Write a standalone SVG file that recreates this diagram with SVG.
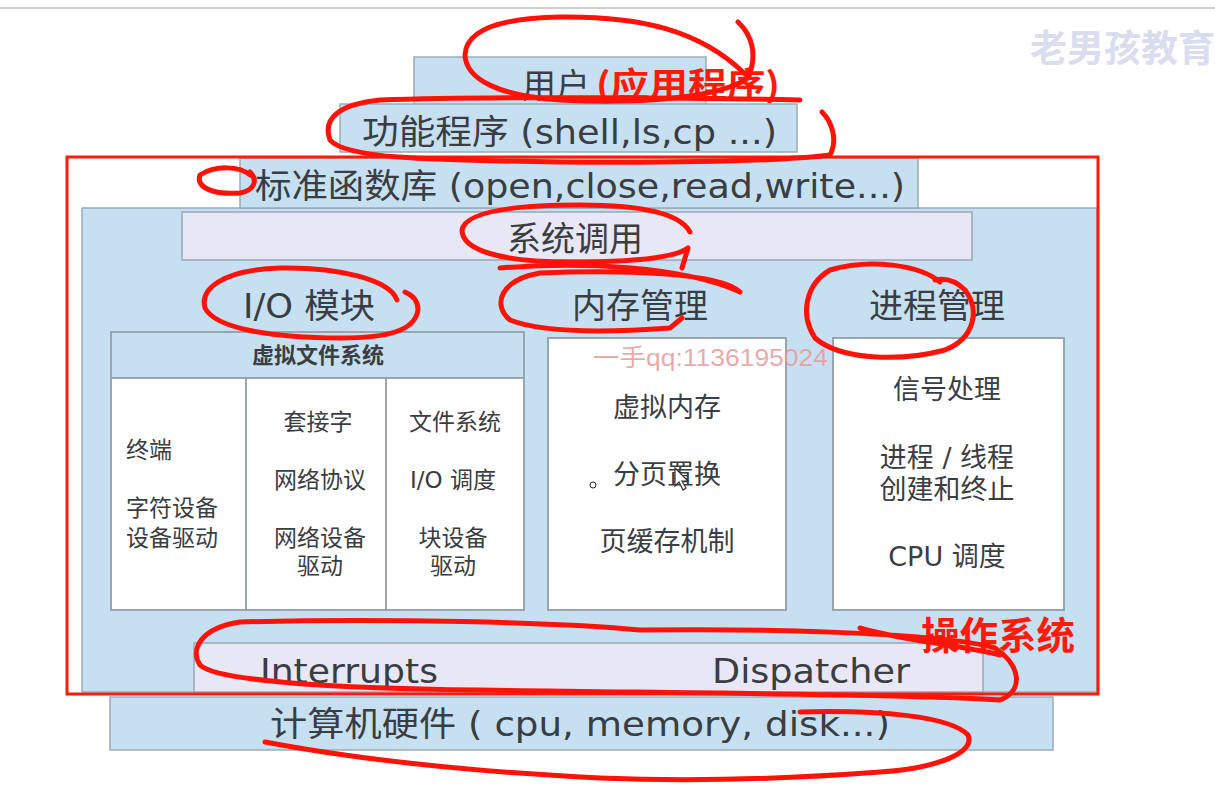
<svg xmlns="http://www.w3.org/2000/svg" width="1215" height="789" viewBox="0 0 1215 789">
<style>
.blue{fill:#c7e0f1;stroke:#9aabb8;stroke-width:1.5}
.lav{fill:#e7e7f6;stroke:#9aa6b4;stroke-width:1.5}
.white{fill:#ffffff;stroke:#98a4ae;stroke-width:2}
.t{font-family:"DejaVu Sans","Noto Sans CJK SC",sans-serif;fill:#3a3d42}
.big{font-size:34px}
.mid{font-size:27px}
.sm{font-size:23px}
.red{fill:#ff1a0a;font-weight:bold;font-family:"Noto Sans CJK SC",sans-serif}
.ink{fill:none;stroke:#ff1208;stroke-width:5;stroke-linecap:round;stroke-linejoin:round}
</style>
<rect x="0" y="0" width="1215" height="789" fill="#ffffff"/>
<line x1="0" y1="8" x2="1215" y2="8" stroke="#cfcfcf" stroke-width="2"/>
<text x="1215" y="62" text-anchor="end" font-family="Noto Sans CJK SC,sans-serif" font-weight="bold" font-size="37" fill="#dadcf0">老男孩教育</text>

<g id="user"><rect class="blue" x="414" y="57" width="292" height="50"/>
<text class="t big" x="522" y="98">用户</text>
<text class="red" x="596" y="97" font-size="34" textLength="184" lengthAdjust="spacingAndGlyphs">(应用程序)</text></g>

<g id="utils"><rect class="blue" x="340" y="104" width="457" height="48"/>
<text class="t big" x="362" y="144" textLength="415" lengthAdjust="spacingAndGlyphs">功能程序 (shell,ls,cp ...)</text></g>

<g id="kernel"><rect class="blue" x="82" y="208" width="1015" height="484"/></g>

<g id="libc"><rect class="blue" x="240" y="158" width="678" height="50"/>
<text class="t big" x="255" y="198" textLength="650" lengthAdjust="spacingAndGlyphs">标准函数库 (open,close,read,write...)</text></g>

<g id="syscall"><rect class="lav" x="182" y="212" width="790" height="48"/>
<text class="t big" x="575" y="251" text-anchor="middle">系统调用</text></g>

<g id="io">
<text class="t big" x="243" y="318" textLength="132" lengthAdjust="spacingAndGlyphs">I/O 模块</text>
<rect class="white" x="111" y="332" width="413" height="278"/>
<rect x="111" y="332" width="413" height="46" fill="#c7e0f1" stroke="#98a4ae" stroke-width="2"/>
<line x1="246" y1="378" x2="246" y2="610" stroke="#98a4ae" stroke-width="2"/>
<line x1="386" y1="378" x2="386" y2="610" stroke="#98a4ae" stroke-width="2"/>
<text class="t" x="318" y="363" text-anchor="middle" font-size="22" font-weight="bold" fill="#56636e">虚拟文件系统</text>
<g class="t sm">
<text x="126" y="458">终端</text>
<text x="126" y="516">字符设备</text>
<text x="126" y="546">设备驱动</text>
<text x="318" y="430" text-anchor="middle">套接字</text>
<text x="320" y="488" text-anchor="middle">网络协议</text>
<text x="320" y="546" text-anchor="middle">网络设备</text>
<text x="320" y="574" text-anchor="middle">驱动</text>
<text x="455" y="430" text-anchor="middle">文件系统</text>
<text x="453" y="488" text-anchor="middle">I/O 调度</text>
<text x="453" y="546" text-anchor="middle">块设备</text>
<text x="453" y="574" text-anchor="middle">驱动</text>
</g></g>

<g id="mem">
<text class="t big" x="640" y="318" text-anchor="middle" font-size="36">内存管理</text>
<rect class="white" x="548" y="338" width="238" height="272"/>
<g class="t mid">
<text x="667" y="417" text-anchor="middle">虚拟内存</text>
<text x="667" y="484" text-anchor="middle">分页置换</text>
<text x="667" y="551" text-anchor="middle">页缓存机制</text>
</g>
<circle cx="593" cy="485" r="3" fill="#fff" stroke="#222" stroke-width="1"/>
<path d="M675,468 L675,486 L679,482 L683,490 L686,488 L682,481 L688,481 Z" fill="#fff" stroke="#333" stroke-width="1.2"/>
</g>

<g id="proc">
<text class="t big" x="937" y="318" text-anchor="middle" font-size="36">进程管理</text>
<rect class="white" x="833" y="338" width="231" height="272"/>
<g class="t mid">
<text x="947" y="399" text-anchor="middle">信号处理</text>
<text x="947" y="467" text-anchor="middle">进程 / 线程</text>
<text x="947" y="499" text-anchor="middle">创建和终止</text>
<text x="947" y="566" text-anchor="middle">CPU 调度</text>
</g></g>

<text x="593" y="366" font-family="Liberation Sans,Noto Sans CJK SC,sans-serif" font-size="24" fill="#e79a9a" fill-opacity="0.85" textLength="235" lengthAdjust="spacingAndGlyphs">一手qq:1136195024</text>

<g id="interrupts"><rect class="lav" x="194" y="643" width="789" height="49"/>
<text class="t big" x="260" y="683" textLength="178" lengthAdjust="spacingAndGlyphs">Interrupts</text>
<text class="t big" x="712" y="683" textLength="198" lengthAdjust="spacingAndGlyphs">Dispatcher</text></g>

<g id="hardware"><rect class="blue" x="110" y="697" width="943" height="53"/>
<text class="t big" x="270" y="736" textLength="620" lengthAdjust="spacingAndGlyphs">计算机硬件 ( cpu, memory, disk...)</text></g>

<rect x="67" y="157" width="1031" height="537" fill="none" stroke="#ff1a0a" stroke-width="3"/>
<text class="red" x="921" y="649" font-size="38" textLength="154" lengthAdjust="spacingAndGlyphs">操作系统</text>

<g id="connectors">
<path class="ink" d="M738,22 C752,35 758,55 748,78 C720,98 640,104 560,100 C500,96 466,80 465,55 C466,30 500,18 560,17 C640,16 700,30 745,74"/>
<path class="ink" d="M800,100 C700,98 500,96 380,100 C340,104 322,118 330,140 C345,158 420,160 560,162 C700,163 790,160 830,155 C838,140 832,122 822,112"/>
<path class="ink" d="M250,175 C240,166 215,165 200,175 C195,188 215,195 240,193 C255,190 258,180 250,172"/>
<path class="ink" d="M690,232 C680,213 640,205 580,205 C510,205 465,212 462,230 C462,250 500,262 570,262 C630,262 675,258 688,248 L682,268"/>
<path class="ink" d="M500,268 C580,262 680,265 740,292 M740,292 C720,272 620,270 540,273 C500,280 492,305 510,320 C540,332 600,333 670,328 L682,318"/>
<path class="ink" d="M397,300 C390,280 340,267 280,268 C220,270 200,290 205,308 C215,328 270,338 340,338 C390,338 415,330 418,310 C418,300 412,295 405,292"/>
<path class="ink" d="M940,282 C920,265 870,258 830,270 C805,285 800,315 815,338 C840,360 900,362 945,350 C975,338 980,310 965,290 C955,280 945,278 935,280"/>
<path class="ink" d="M640,630 C560,622 380,618 240,622 C200,628 190,650 200,665 C215,680 320,688 480,690 C680,693 900,694 1000,700 C1025,690 1020,665 995,648 C950,635 800,628 640,630 M860,628 C900,640 960,645 1000,655"/>
<path class="ink" d="M800,712 C880,710 950,716 968,735 C975,752 940,768 880,772 C800,778 700,782 600,778 C480,772 360,760 265,742"/>
</g>
</svg>
